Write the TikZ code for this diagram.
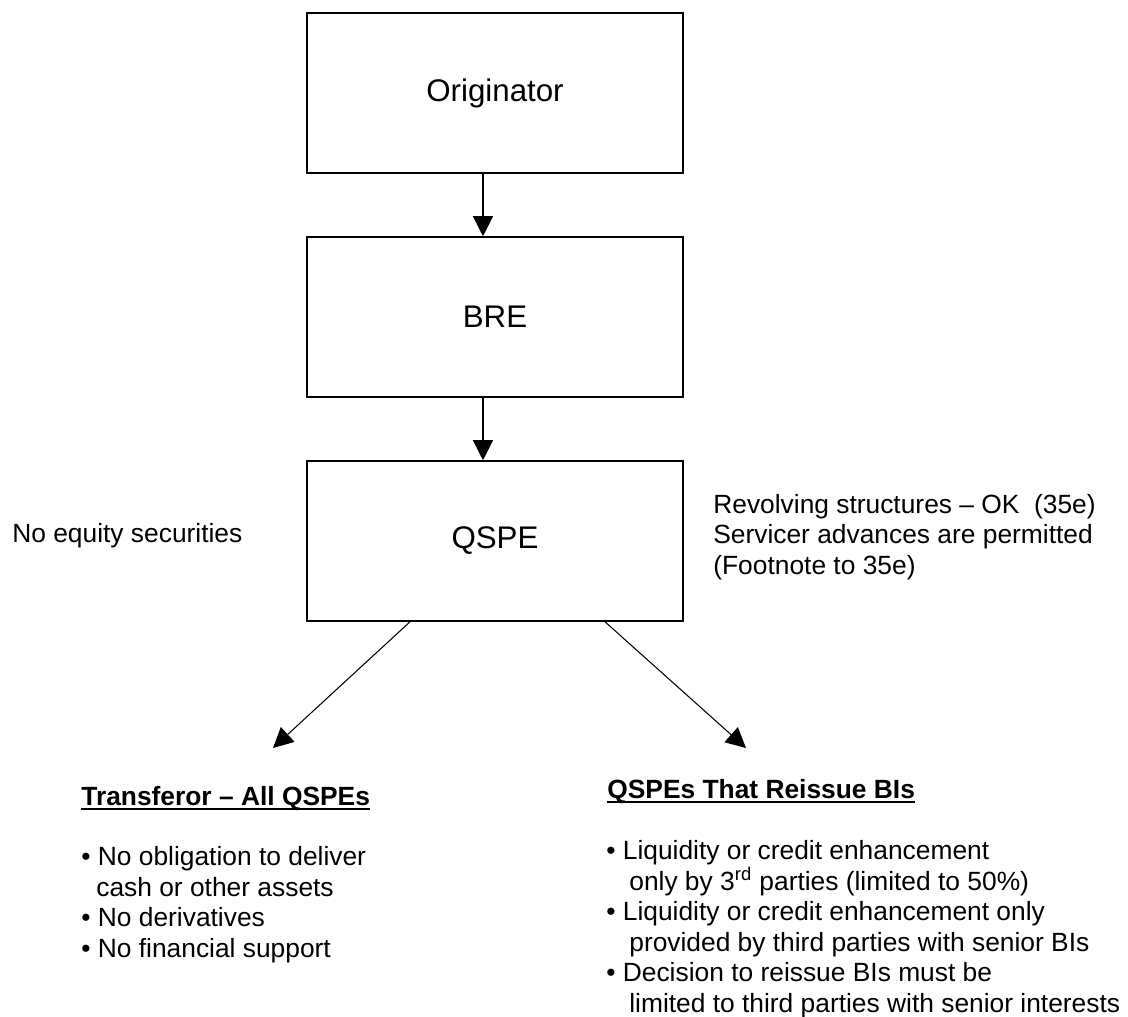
\documentclass[tikz,border=0pt]{standalone}
\usepackage{fontspec}
\setmainfont{Liberation Sans}
\usepackage{tikz}
\usetikzlibrary{arrows.meta, calc}
\tikzstyle{component} = [rectangle, draw, fill=white, line width=0.9pt,
    minimum width=7.52cm, minimum height=3.2cm, font=\fontsize{17.8}{21}\selectfont]
\tikzstyle{note} = [inner sep=0pt, font=\fontsize{15}{17.4}\selectfont]
\tikzstyle{line} = [draw, line width=0.7pt, -{Triangle[length=0.4cm, width=0.4cm]}]
\newsavebox{\headbox}
\newcommand{\ulhead}[1]{\sbox{\headbox}{\bfseries #1}\usebox{\headbox}\kern-\wd\headbox\rule[-3pt]{\wd\headbox}{1.1pt}}

\begin{document}
\begin{tikzpicture}[node distance = 4.48cm, auto]
    \useasboundingbox (0,0) rectangle (22.56,-20.34);
    % Nodes
    \node[component] (orig) at (9.9,-1.86) {Originator};
    \node[component, below of=orig] (bre) {BRE};
    \node[component, below of=bre] (qspe) {QSPE};
    \node[note, anchor=west] (noequity) at (0.24,-10.72) {No equity securities};
    \node[note, anchor=west, align=left] (revolving) at (14.26,-10.74)
        {Revolving structures – OK\ \ (35e)\\Servicer advances are permitted\\(Footnote to 35e)};
    \coordinate (lefttip) at (5.46,-14.96);
    \coordinate (righttip) at (14.92,-14.96);

    \node[note, anchor=base west] (transhead) at (1.62,-16.10) {\ulhead{Transferor – All QSPEs}};
    \node[note, anchor=north west, align=left] (translist) at (1.62,-16.92)
        {\textbullet\ No obligation to deliver\\\hspace*{0.3cm}cash or other assets\\
         \textbullet\ No derivatives\\\textbullet\ No financial support};
    \node[note, anchor=base west] (reisshead) at (12.14,-15.96) {\ulhead{QSPEs That Reissue BIs}};
    \node[note, anchor=north west, align=left] (reisslist) at (12.12,-16.80)
        {\textbullet\ Liquidity or credit enhancement\\
         \hspace*{0.46cm}only by 3\textsuperscript{rd} parties (limited to 50\%)\\
         \textbullet\ Liquidity or credit enhancement only\\
         \hspace*{0.46cm}provided by third parties with senior BIs\\
         \textbullet\ Decision to reissue BIs must be\\
         \hspace*{0.46cm}limited to third parties with senior interests};

    % Edges
    \path[line] ([xshift=-0.24cm]orig.south) -- ([xshift=-0.24cm]bre.north);
    \path[line] ([xshift=-0.24cm]bre.south) -- ([xshift=-0.24cm]qspe.north);
    \path[line, line width=0.6pt] ([xshift=-1.7cm]qspe.south) -- (lefttip);
    \path[line, line width=0.6pt] ([xshift=2.2cm]qspe.south) -- (righttip);
\end{tikzpicture}
\end{document}
